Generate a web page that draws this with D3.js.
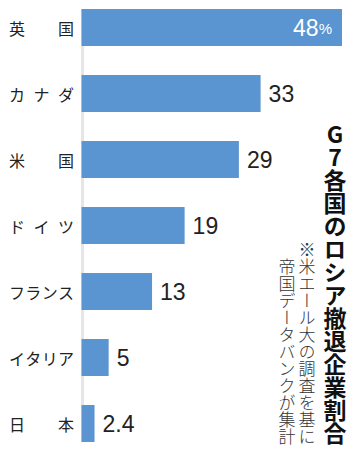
<!DOCTYPE html>
<html>
<head>
<meta charset="utf-8">
<script src="https://cdn.jsdelivr.net/npm/d3@7"></script>
<style>
  body { margin: 0; background: #fff; }
  svg { display: block; }
</style>
</head>
<body>
<div id="chart"></div>
<script>
// G7各国のロシア撤退企業割合 - 横棒グラフ

const countries = ["英国", "カナダ", "米国", "ドイツ", "フランス", "イタリア", "日本"];
const shares = [48, 33, 29, 19, 13, 5, 2.4];
const valueLabels = ["48", "33", "29", "19", "13", "5", "2.4"];
const titleText = "G7各国のロシア撤退企業割合";
const noteLines = ["※米エール大の調査を基に", "帝国データバンクが集計"];

const W = 351, H = 450;
const jpFont = "'Noto Sans CJK JP', 'Noto Sans', sans-serif";
const numFont = "'Liberation Sans', Arial, sans-serif";

const svg = d3.select("#chart")
  .append("svg")
    .attr("width", W)
    .attr("height", H);

const x = d3.scaleLinear()
  .domain([0, 48])
  .range([81.5, 342]);

const y = d3.scaleBand()
  .domain(countries)
  .range([-5.5, 456.5])
  .paddingInner(0.44)
  .paddingOuter(0.22);

// 軸の薄いグレー線
svg.append("line")
  .attr("x1", 82.5).attr("x2", 82.5)
  .attr("y1", y(countries[0])).attr("y2", y(countries[6]) + y.bandwidth())
  .attr("stroke", "#e6e6e6")
  .attr("stroke-width", 3);

// 棒
svg.selectAll("rect.bar")
  .data(countries)
  .enter().append("rect")
    .attr("class", "bar")
    .attr("x", x(0))
    .attr("y", d => y(d))
    .attr("width", (d, i) => x(shares[i]) - x(0))
    .attr("height", y.bandwidth())
    .attr("fill", "#5a94d1");

// 国名（均等割り付け）
const labelLeft = 9, labelWidth = 65, labelFs = 16;
countries.forEach(name => {
  const chars = Array.from(name);
  const step = (labelWidth - labelFs) / (chars.length - 1);
  svg.append("g")
    .selectAll("text")
    .data(chars)
    .enter().append("text")
      .attr("x", (c, i) => labelLeft + labelFs / 2 + i * step)
      .attr("y", y(name) + y.bandwidth() / 2)
      .attr("text-anchor", "middle")
      .attr("dominant-baseline", "central")
      .attr("font-family", jpFont)
      .attr("font-size", labelFs)
      .attr("fill", "#222")
      .text(c => c);
});

// 数値ラベル
countries.forEach((name, i) => {
  const cy = y(name) + y.bandwidth() / 2;
  if (i === 0) {
    const t = svg.append("text")
      .attr("x", x(shares[i]) - 10)
      .attr("y", cy)
      .attr("text-anchor", "end")
      .attr("dominant-baseline", "central")
      .attr("font-family", numFont)
      .attr("font-size", 23)
      .attr("fill", "#fff");
    t.append("tspan").text(valueLabels[i]);
    t.append("tspan").attr("font-size", 15).text("%");
  } else {
    svg.append("text")
      .attr("x", x(shares[i]) + 8)
      .attr("y", cy)
      .attr("dominant-baseline", "central")
      .attr("font-family", numFont)
      .attr("font-size", 23)
      .attr("fill", "#222")
      .text(valueLabels[i]);
  }
});

// タイトル（縦書き）
svg.append("text")
  .attr("x", 335)
  .attr("y", 445)
  .attr("text-anchor", "end")
  .style("writing-mode", "vertical-rl")
  .style("text-orientation", "upright")
  .attr("font-family", jpFont)
  .attr("font-weight", "bold")
  .attr("font-size", 23)
  .attr("fill", "#111")
  .text(titleText);

// 注記（縦書き 2列）
noteLines.forEach((line, i) => {
  svg.append("text")
    .attr("x", 307 - i * 20)
    .attr("y", 445)
    .attr("text-anchor", "end")
    .style("writing-mode", "vertical-rl")
    .style("text-orientation", "upright")
    .attr("font-family", jpFont)
    .attr("font-weight", 300)
    .attr("font-size", 17)
    .attr("fill", "#333")
    .text(line);
});
</script>
</body>
</html>
